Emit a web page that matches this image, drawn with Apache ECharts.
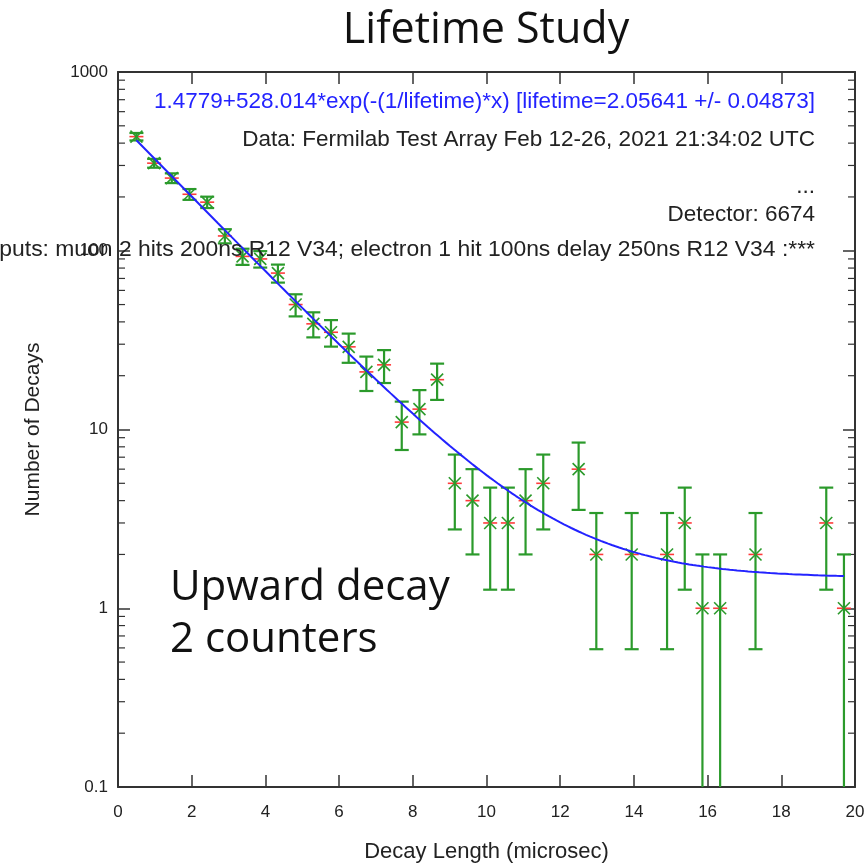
<!DOCTYPE html>
<html>
<head>
<meta charset="utf-8">
<title>Lifetime Study</title>
<script src="https://cdn.jsdelivr.net/npm/echarts@6/dist/echarts.min.js"></script>
<style>
  html, body { margin: 0; padding: 0; background: #fff; }
  #chart { width: 868px; height: 863px; }
</style>
</head>
<body>
<div id="chart"></div>
<script>
// Decay-time histogram bins (microseconds) and counts per bin
const binCenters = [0.50, 0.98, 1.46, 1.94, 2.42, 2.90, 3.38, 3.86, 4.34, 4.82,
                    5.30, 5.78, 6.26, 6.74, 7.22, 7.70, 8.18, 8.66, 9.14, 9.62,
                    10.10, 10.58, 11.06, 11.54, 12.50, 12.98, 13.94, 14.90, 15.38, 15.86,
                    16.34, 17.30, 19.22, 19.70];
const decayCounts = [435, 309, 255, 207, 187, 121, 93, 90, 75, 50,
                     39, 35, 29, 21, 23, 11, 13, 19, 5, 4,
                     3, 3, 4, 5, 6, 2, 2, 2, 3, 1,
                     1, 2, 3, 1];
// Statistical (Poisson) uncertainty of each count
const countErrors = [20.86, 17.58, 15.97, 14.39, 13.67, 11.00, 9.64, 9.49, 8.66, 7.07,
                     6.24, 5.92, 5.39, 4.58, 4.80, 3.32, 3.61, 4.36, 2.24, 2.00,
                     1.73, 1.73, 2.00, 2.24, 2.45, 1.41, 1.41, 1.41, 1.73, 1.00,
                     1.00, 1.41, 1.73, 1.00];

// Exponential fit parameters
const FIT_OFFSET = 1.4779;
const FIT_AMPLITUDE = 528.014;
const FIT_LIFETIME = 2.05641;
const FIT_LIFETIME_ERR = 0.04873;
const FIT_RANGE = [0.5, 19.7];

// Axis ticks
const yDecades = [0.1, 1, 10, 100, 1000];
const yMinorTicks = [];
for (let d = 0; d < yDecades.length - 1; d++) {
  for (let m = 2; m <= 9; m++) yMinorTicks.push(+(yDecades[d] * m).toPrecision(3));
}

// Header annotation lines
const fitLabel = FIT_OFFSET + '+' + FIT_AMPLITUDE + '*exp(-(1/lifetime)*x) [lifetime=' +
                 FIT_LIFETIME + ' +/- ' + FIT_LIFETIME_ERR + ']';
const infoLines = [
  'Data: Fermilab Test Array Feb 12-26, 2021 21:34:02 UTC',
  '...',
  'Detector: 6674',
  'puts: muon 2 hits 200ns R12 V34; electron 1 hit 100ns delay 250ns R12 V34 :***'
];

const fitCurve = [];
for (let x = FIT_RANGE[0]; x <= FIT_RANGE[1] + 1e-9; x += 0.05) {
  fitCurve.push([x, FIT_OFFSET + FIT_AMPLITUDE * Math.exp(-x / FIT_LIFETIME)]);
}

const points = binCenters.map((x, i) => [x, decayCounts[i], countErrors[i]]);

const GREEN = '#2b9a2b';
const RED = '#ff3b3b';
const BLUE = '#2323ff';
const AXIS = '#333333';
const FONT = '"Liberation Sans", Arial, sans-serif';
const SLIDE_FONT = '"Open Sans", sans-serif';

const chart = echarts.init(document.getElementById('chart'), null, { renderer: 'canvas' });

function frameAxis(extra) {
  return Object.assign({
    axisLine: { show: true, onZero: false, lineStyle: { color: AXIS, width: 2 } },
    splitLine: { show: false },
    axisTick: { show: true, inside: true, length: 12, lineStyle: { color: AXIS, width: 1.5 } }
  }, extra);
}

function headerText(text, y, color, size) {
  return {
    type: 'text', x: 815, y: y, z: 100,
    style: { text: text, font: (size || 22.5) + 'px ' + FONT, fill: color,
             align: 'right', verticalAlign: 'middle',
             textAlign: 'right', textVerticalAlign: 'middle' }
  };
}

chart.setOption({
  animation: false,
  backgroundColor: '#ffffff',
  grid: { left: 118, top: 72, width: 737, height: 715, containLabel: false,
          outerBoundsMode: 'none' },
  xAxis: [
    frameAxis({
      type: 'value', min: 0, max: 20, interval: 2, position: 'bottom',
      name: 'Decay Length (microsec)', nameLocation: 'middle', nameGap: 54,
      nameTextStyle: { fontFamily: FONT, fontSize: 22, color: '#222' },
      axisLabel: { fontFamily: FONT, fontSize: 17, color: '#222', margin: 17 }
    }),
    frameAxis({
      type: 'value', min: 0, max: 20, interval: 2, position: 'top',
      axisLabel: { show: false }
    })
  ],
  yAxis: [
    frameAxis({
      type: 'log', logBase: 10, min: 0.1, max: 1000, position: 'left',
      name: 'Number of Decays', nameLocation: 'middle', nameGap: 74, nameRotate: 90,
      nameTextStyle: { fontFamily: FONT, fontSize: 21, color: '#222' },
      axisLabel: { fontFamily: FONT, fontSize: 17, color: '#222', margin: 10,
                   formatter: v => String(+(+v).toPrecision(3)) }
    }),
    frameAxis({
      type: 'log', logBase: 10, min: 0.1, max: 1000, position: 'right',
      axisLabel: { show: false }
    })
  ],
  graphic: [
    { type: 'text', x: 486, y: 31, z: 100,
      style: { text: 'Lifetime Study', font: '43px ' + SLIDE_FONT, fill: '#111',
               align: 'center', verticalAlign: 'middle',
               textAlign: 'center', textVerticalAlign: 'middle' } },
    headerText(fitLabel, 102, BLUE),
    headerText(infoLines[0], 140, '#222'),
    headerText(infoLines[1], 187, '#222'),
    headerText(infoLines[2], 215, '#222'),
    headerText(infoLines[3], 250, '#222', 22.9),
    { type: 'text', x: 170, y: 588, z: 100,
      style: { text: 'Upward decay', font: '42px ' + SLIDE_FONT, fill: '#111',
               verticalAlign: 'middle', textVerticalAlign: 'middle' } },
    { type: 'text', x: 170, y: 640, z: 100,
      style: { text: '2 counters', font: '42px ' + SLIDE_FONT, fill: '#111',
               verticalAlign: 'middle', textVerticalAlign: 'middle' } }
  ],
  series: [
    {
      // log-spaced minor ticks on left and right frame edges
      type: 'custom', xAxisIndex: 0, yAxisIndex: 0, clip: false, silent: true,
      data: yMinorTicks.map(v => [0, v]),
      renderItem: function (params, api) {
        const v = api.value(1);
        const l = api.coord([0, v]);
        const r = api.coord([20, v]);
        const style = { stroke: AXIS, lineWidth: 1.2 };
        return { type: 'group', children: [
          { type: 'line', shape: { x1: l[0], y1: l[1], x2: l[0] + 7, y2: l[1] }, style: style },
          { type: 'line', shape: { x1: r[0], y1: r[1], x2: r[0] - 7, y2: r[1] }, style: style }
        ] };
      }
    },
    {
      // count markers with error bars
      type: 'custom', xAxisIndex: 0, yAxisIndex: 0, clip: true, z: 3,
      data: points,
      renderItem: function (params, api) {
        const x = api.value(0), n = api.value(1), e = api.value(2);
        const p = api.coord([x, n]);
        const hi = api.coord([x, n + e]);
        const lowVal = n - e;
        const clipped = lowVal <= 0.1;
        const lo = api.coord([x, clipped ? 0.1 : lowVal]);
        const g = { stroke: GREEN, lineWidth: 2.2 };
        const children = [
          { type: 'line', shape: { x1: p[0], y1: hi[1], x2: p[0], y2: lo[1] + (clipped ? 2 : 0) }, style: g },
          { type: 'line', shape: { x1: p[0] - 7, y1: hi[1], x2: p[0] + 7, y2: hi[1] }, style: g }
        ];
        if (!clipped) {
          children.push({ type: 'line', shape: { x1: p[0] - 7, y1: lo[1], x2: p[0] + 7, y2: lo[1] }, style: g });
        }
        children.push(
          { type: 'line', shape: { x1: p[0] - 7, y1: p[1], x2: p[0] + 7, y2: p[1] },
            style: { stroke: RED, lineWidth: 1.6 } },
          { type: 'line', shape: { x1: p[0] - 6, y1: p[1] - 6, x2: p[0] + 6, y2: p[1] + 6 },
            style: { stroke: GREEN, lineWidth: 1.6 } },
          { type: 'line', shape: { x1: p[0] - 6, y1: p[1] + 6, x2: p[0] + 6, y2: p[1] - 6 },
            style: { stroke: GREEN, lineWidth: 1.6 } }
        );
        return { type: 'group', children: children };
      }
    },
    {
      name: 'fit', type: 'line', xAxisIndex: 0, yAxisIndex: 0, z: 4,
      data: fitCurve, showSymbol: false, smooth: false,
      lineStyle: { color: BLUE, width: 2 }
    }
  ]
});
</script>
</body>
</html>
